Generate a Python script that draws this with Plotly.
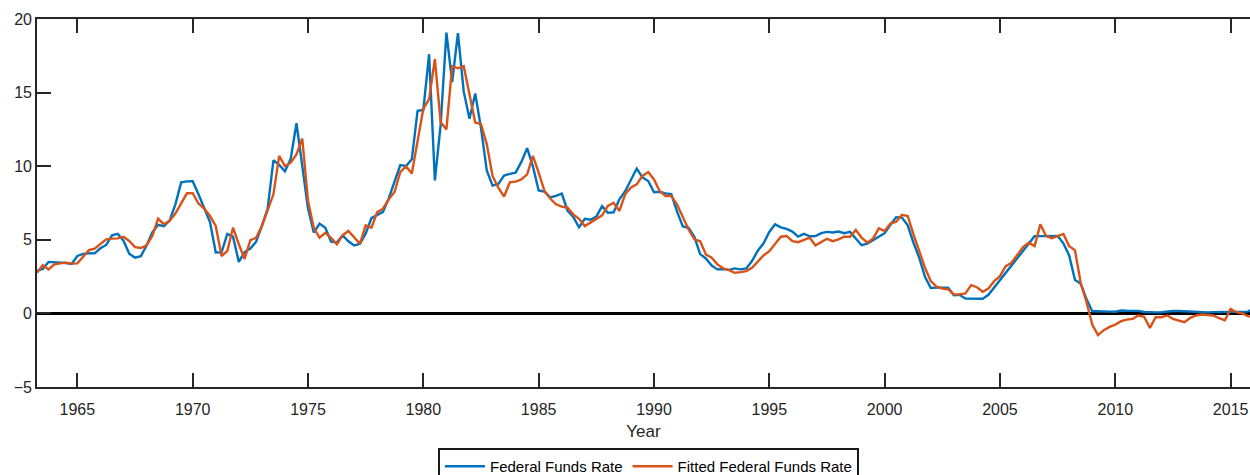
import numpy as np
import plotly.graph_objects as go

# Quarterly observations, first quarter = 1963 Q2 (plotted at year + (q-1)/4)
start_year = 1963.25

fed_funds = [
    2.90, 3.02, 3.50,
    3.48, 3.47, 3.42, 3.36,
    3.90, 4.04, 4.09, 4.08,
    4.42, 4.65, 5.30, 5.40,
    4.94, 4.05, 3.79, 3.88,
    4.61, 5.50, 6.02, 5.92,
    6.30, 7.41, 8.90, 8.97,
    8.98, 8.10, 7.21, 6.20,
    4.14, 4.15, 5.40, 5.20,
    3.50, 4.17, 4.40, 4.87,
    5.94, 7.12, 10.40, 10.09,
    9.65, 10.51, 12.92, 10.06,
    7.13, 5.49, 6.10, 5.82,
    4.87, 4.82, 5.31, 4.90,
    4.61, 4.73, 5.42, 6.47,
    6.70, 6.90, 7.81, 8.96,
    10.07, 10.01, 10.47, 13.77,
    13.82, 17.61, 9.03, 12.81,
    19.08, 15.72, 19.04, 15.08,
    13.22, 14.94, 12.59, 9.71,
    8.68, 8.80, 9.37, 9.48,
    9.56, 10.29, 11.23, 9.99,
    8.35, 8.27, 7.88, 7.99,
    8.14, 6.99, 6.56, 5.85,
    6.43, 6.36, 6.58, 7.29,
    6.83, 6.87, 7.75, 8.30,
    9.12, 9.84, 9.24, 8.99,
    8.23, 8.26, 8.15, 8.11,
    6.91, 5.91, 5.82, 5.21,
    4.03, 3.73, 3.25, 2.99,
    3.02, 2.96, 3.06, 2.99,
    3.05, 3.56, 4.26, 4.76,
    5.53, 6.05, 5.85, 5.74,
    5.56, 5.22, 5.40, 5.24,
    5.25, 5.45, 5.54, 5.50,
    5.56, 5.45, 5.54, 5.07,
    4.63, 4.74, 4.99, 5.20,
    5.45, 6.02, 6.54, 6.51,
    5.98, 4.80, 3.77, 2.49,
    1.73, 1.75, 1.73, 1.75,
    1.24, 1.26, 1.01, 1.01,
    1.00, 1.00, 1.26, 1.76,
    2.28, 2.79, 3.26, 3.78,
    4.29, 4.79, 5.24, 5.25,
    5.25, 5.25, 5.26, 4.76,
    3.94, 2.28, 2.01, 0.97,
    0.15, 0.15, 0.16, 0.12,
    0.11, 0.20, 0.18, 0.19,
    0.17, 0.10, 0.07, 0.07,
    0.08, 0.14, 0.16, 0.16,
    0.14, 0.15, 0.09, 0.09,
    0.07, 0.09, 0.09, 0.09,
    0.11, 0.12, 0.13, 0.12,
    0.34,
]

fitted = [
    2.76, 3.28, 2.99,
    3.33, 3.40, 3.45, 3.38,
    3.40, 3.85, 4.30, 4.40,
    4.70, 5.03, 5.08, 5.10,
    5.20, 4.92, 4.50, 4.44,
    4.62, 5.26, 6.44, 6.06,
    6.29, 6.78, 7.48, 8.16,
    8.16, 7.46, 7.12, 6.62,
    5.94, 3.90, 4.24, 5.83,
    4.70, 3.70, 4.98, 5.14,
    5.93, 6.95, 8.09, 10.70,
    10.00, 10.24, 10.80, 11.88,
    7.64, 5.82, 5.14, 5.48,
    5.14, 4.69, 5.30, 5.60,
    5.14, 4.73, 5.98, 5.82,
    6.89, 7.11, 7.75, 8.25,
    9.60, 10.00, 9.50, 11.70,
    13.90, 14.56, 17.28, 13.00,
    12.50, 16.80, 16.65, 16.80,
    14.90, 12.97, 12.86, 11.50,
    9.34, 8.55, 7.94, 8.90,
    8.95, 9.10, 9.45, 10.70,
    9.57, 8.32, 7.80, 7.41,
    7.25, 7.18, 6.73, 6.43,
    5.93, 6.16, 6.43, 6.66,
    7.30, 7.52, 6.96, 8.09,
    8.55, 8.77, 9.34, 9.60,
    9.10, 8.30, 7.98, 7.98,
    7.40, 6.60, 5.70, 5.03,
    4.90, 4.00, 3.78, 3.33,
    3.06, 2.94, 2.76, 2.80,
    2.87, 3.10, 3.49, 3.94,
    4.23, 4.69, 5.21, 5.26,
    4.91, 4.84, 4.98, 5.14,
    4.62, 4.87, 5.07, 4.91,
    5.03, 5.21, 5.21, 5.67,
    5.14, 4.80, 5.10, 5.78,
    5.60, 6.10, 6.23, 6.69,
    6.62, 5.37, 4.23, 3.10,
    2.19, 1.81, 1.69, 1.63,
    1.29, 1.29, 1.36, 1.92,
    1.78, 1.47, 1.69, 2.19,
    2.53, 3.21, 3.44, 3.96,
    4.50, 4.80, 4.57, 6.05,
    5.26, 5.10, 5.25, 5.40,
    4.57, 4.30, 2.08, 0.78,
    -0.76, -1.48, -1.14, -0.92,
    -0.76, -0.53, -0.42, -0.37,
    -0.14, -0.23, -0.98, -0.26,
    -0.26, -0.14, -0.37, -0.46,
    -0.60, -0.30, -0.14, -0.08,
    -0.10, -0.14, -0.33, -0.46,
    0.31, 0.08, 0.00, -0.19,
    -0.25,
]

x_tick_years = [1965, 1970, 1975, 1980, 1985, 1990, 1995, 2000, 2005, 2010, 2015]
y_ticks = [-5, 0, 5, 10, 15, 20]

dates = start_year + 0.25 * np.arange(len(fed_funds))

AX = "#262626"
FONT = "Liberation Sans, Arial, Helvetica, sans-serif"

fig = go.Figure()
fig.add_trace(go.Scatter(x=dates, y=fed_funds, mode="lines", name="Federal Funds Rate",
                         line=dict(color="#0072BD", width=2.4)))
fig.add_trace(go.Scatter(x=dates, y=fitted, mode="lines", name="Fitted Federal Funds Rate",
                         line=dict(color="#D95319", width=2.4)))

fig.update_layout(
    width=1250, height=475,
    margin=dict(l=37, r=0, t=19, b=88),
    paper_bgcolor="white", plot_bgcolor="white",
    font=dict(family=FONT, color=AX, size=16),
    showlegend=True,
    legend=dict(
        orientation="h",
        xref="container", yref="container",
        x=648.5 / 1250, xanchor="center",
        y=1 - 448 / 475, yanchor="top",
        bgcolor="white", bordercolor="#1a1a1a", borderwidth=2,
        font=dict(size=15, color="#000000", family=FONT),
        itemwidth=40,
    ),
    xaxis=dict(
        range=[1963.25, 2015.84],
        tickmode="array", tickvals=x_tick_years,
        ticks="inside", ticklen=14, tickwidth=1.6, tickcolor=AX,
        showline=True, linecolor=AX, linewidth=1.6, mirror="ticks",
        showgrid=False, zeroline=False,
        ticklabelstandoff=7,
        tickfont=dict(size=16, color=AX, family=FONT),
        title=dict(text="Year", font=dict(size=17, color=AX, family=FONT), standoff=8),
    ),
    yaxis=dict(
        range=[-5, 20],
        tickmode="array", tickvals=y_ticks,
        ticks="inside", ticklen=14, tickwidth=1.6, tickcolor=AX,
        showline=True, linecolor=AX, linewidth=1.6, mirror=False,
        showgrid=False,
        zeroline=True, zerolinecolor="#000000", zerolinewidth=2.5,
        tickfont=dict(size=16, color=AX, family=FONT),
    ),
    yaxis2=dict(
        overlaying="y", side="right", anchor="x",
        range=[-5, 20], tickmode="array", tickvals=y_ticks,
        ticks="inside", ticklen=3, tickwidth=1.6, tickcolor=AX,
        showticklabels=False, showline=False, showgrid=False, zeroline=False,
    ),
)

fig.write_html("out.html")
